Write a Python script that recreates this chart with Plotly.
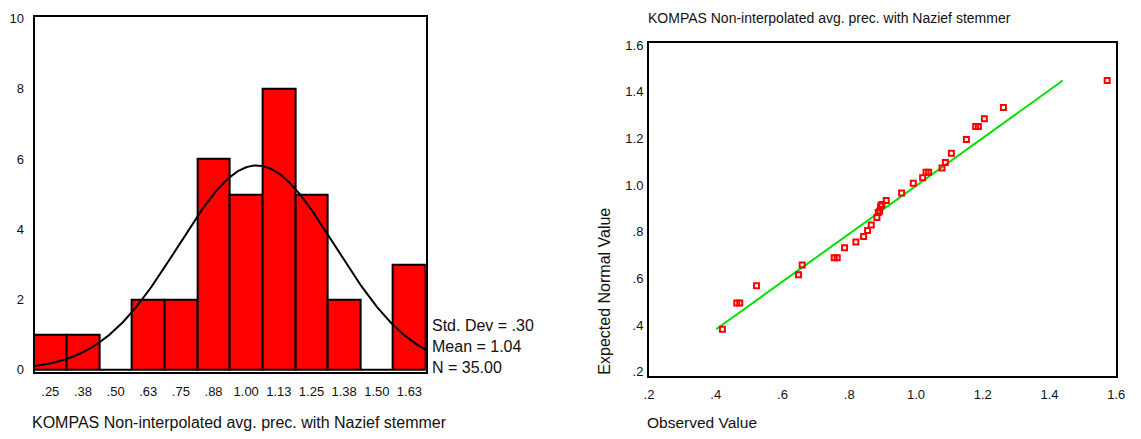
import numpy as np
import plotly.graph_objects as go

# ---------------- data ----------------
bin_centers = [0.25, 0.375, 0.50, 0.625, 0.75, 0.875, 1.00, 1.125, 1.25, 1.375, 1.50, 1.625]
bin_labels = [".25", ".38", ".50", ".63", ".75", ".88", "1.00", "1.13", "1.25", "1.38", "1.50", "1.63"]
counts = [1, 1, 0, 2, 2, 6, 5, 8, 5, 2, 0, 3]
bin_width = 0.125
stat_mean = 1.04
stat_sd = 0.30
stat_n = 35

observed = [0.420, 0.463, 0.472, 0.522, 0.648, 0.659, 0.755, 0.764, 0.786, 0.820,
            0.843, 0.855, 0.866, 0.883, 0.887, 0.891, 0.894, 0.898, 0.911, 0.957,
            0.992, 1.020, 1.030, 1.038, 1.078, 1.088, 1.106, 1.151, 1.179, 1.187,
            1.205, 1.262, 1.573]
expected = [0.382, 0.495, 0.495, 0.569, 0.616, 0.657, 0.689, 0.689, 0.731, 0.756,
            0.780, 0.805, 0.829, 0.861, 0.882, 0.888, 0.910, 0.917, 0.934, 0.966,
            1.008, 1.031, 1.055, 1.055, 1.073, 1.097, 1.136, 1.195, 1.251, 1.251,
            1.284, 1.332, 1.448]
ref_line_x = [0.401, 1.440]
ref_line_y = [0.382, 1.448]

y_ticks_left = [0, 2, 4, 6, 8, 10]
x_ticks_right = [0.2, 0.4, 0.6, 0.8, 1.0, 1.2, 1.4, 1.6]
x_ticklabels_right = [".2", ".4", ".6", ".8", "1.0", "1.2", "1.4", "1.6"]
y_ticks_right = [0.2, 0.4, 0.6, 0.8, 1.0, 1.2, 1.4, 1.6]
y_ticklabels_right = [".2", ".4", ".6", ".8", "1.0", "1.2", "1.4", "1.6"]

title_text = "KOMPAS Non-interpolated avg. prec. with Nazief stemmer"

W, H = 1141, 439
FONT = "Liberation Sans, Arial, sans-serif"
TXT = "#111111"

# normal curve from the stats shown on the chart
lo = bin_centers[0] - bin_width / 2
hi = bin_centers[-1] + bin_width / 2
cx = np.linspace(lo, hi, 300)
cy = stat_n * bin_width / (stat_sd * np.sqrt(2 * np.pi)) * np.exp(-0.5 * ((cx - stat_mean) / stat_sd) ** 2)

fig = go.Figure()

fig.add_trace(go.Bar(
    x=bin_centers, y=counts, width=bin_width,
    marker=dict(color="#ff0000", line=dict(color="black", width=2)),
    xaxis="x", yaxis="y", showlegend=False,
))
fig.add_trace(go.Scatter(
    x=cx, y=cy, mode="lines", line=dict(color="black", width=2),
    xaxis="x", yaxis="y", showlegend=False,
))

fig.add_trace(go.Scatter(
    x=ref_line_x, y=ref_line_y, mode="lines", line=dict(color="#00e000", width=2),
    xaxis="x2", yaxis="y2", showlegend=False,
))
fig.add_trace(go.Scatter(
    x=observed, y=expected, mode="markers",
    marker=dict(symbol="square-open", size=5, color="#ff0000", line=dict(color="#ff0000", width=2)),
    xaxis="x2", yaxis="y2", showlegend=False,
))

def px_x(p):
    return p / W

def px_y(p):
    return 1 - p / H

axis_common = dict(showgrid=False, zeroline=False, showline=True, linecolor="black",
                   linewidth=2, mirror=True, ticks="", tickfont=dict(family=FONT, size=13, color=TXT))

fig.update_layout(
    width=W, height=H,
    margin=dict(l=0, r=0, t=0, b=0),
    paper_bgcolor="white", plot_bgcolor="white",
    bargap=0,
    xaxis=dict(domain=[px_x(30), px_x(426)], range=[0.19, 1.6875],
               tickmode="array", tickvals=bin_centers, ticktext=bin_labels, anchor="y",
               ticklabelstandoff=7, **axis_common),
    yaxis=dict(domain=[px_y(376), px_y(11)], range=[-0.056, 10.056],
               tickmode="array", tickvals=y_ticks_left, anchor="x", ticklabelstandoff=6,
               **axis_common),
    xaxis2=dict(domain=[px_x(652), px_x(1125)], range=[0.2, 1.6],
                tickmode="array", tickvals=x_ticks_right, ticktext=x_ticklabels_right, anchor="y2",
                ticklabelstandoff=6, **axis_common),
    yaxis2=dict(domain=[px_y(380), px_y(38.5)], range=[0.1834, 1.607],
                tickmode="array", tickvals=y_ticks_right, ticktext=y_ticklabels_right, anchor="x2",
                ticklabelstandoff=1, **axis_common),
)

ann_font = dict(family=FONT, size=16, color=TXT)
annotations = [
    dict(text=title_text, x=px_x(25), y=px_y(428), xref="paper", yref="paper",
         xanchor="left", yanchor="middle", showarrow=False, font=ann_font),
    dict(text="Std. Dev = .30<br>Mean = 1.04<br>N = 35.00", x=px_x(430), y=px_y(382),
         xref="paper", yref="paper", xanchor="left", yanchor="bottom", align="left",
         showarrow=False, font=ann_font),
    dict(text=title_text, x=px_x(649), y=px_y(12), xref="paper", yref="paper",
         xanchor="left", yanchor="middle", showarrow=False,
         font=dict(family=FONT, size=14, color=TXT)),
    dict(text="Observed Value", x=px_x(648), y=px_y(428), xref="paper", yref="paper",
         xanchor="left", yanchor="middle", showarrow=False,
         font=dict(family=FONT, size=15.5, color=TXT)),
    dict(text="Expected Normal Value", x=px_x(607), y=px_y(381), xref="paper", yref="paper",
         xanchor="center", yanchor="bottom", textangle=-90, showarrow=False,
         font=dict(family=FONT, size=16, color=TXT)),
]
fig.update_layout(annotations=annotations)

fig.write_html("out.html")
